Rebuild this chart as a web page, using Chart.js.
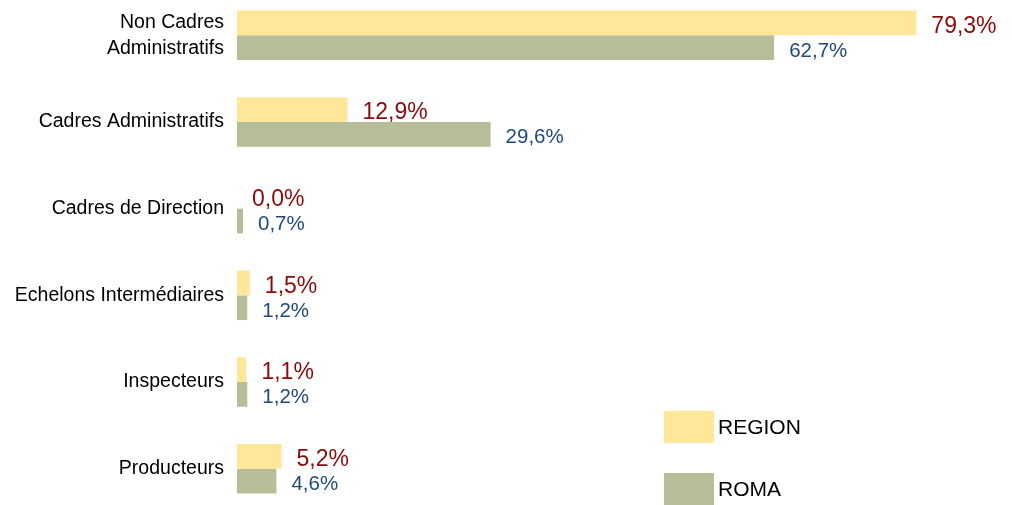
<!DOCTYPE html>
<html>
<head>
<meta charset="utf-8">
<script src="https://cdn.jsdelivr.net/npm/chart.js@4/dist/chart.umd.min.js"></script>
<style>
  html, body { margin: 0; padding: 0; background: #fff; overflow: hidden; width: 1012px; height: 505px; }
  #c { position: absolute; left: 0; top: -8px; }
  .lg { position: absolute; left: 664px; width: 50px; height: 32px; }
  .lt { position: absolute; left: 718px; font-family: "Liberation Sans", Arial, sans-serif; font-size: 21px; color: #000; line-height: 32px; }
</style>
</head>
<body>
<canvas id="c" width="1012" height="520"></canvas>
<div class="lg" id="lg0" style="top:411px;"></div>
<div class="lt" id="lt0" style="top:411px;"></div>
<div class="lg" id="lg1" style="top:473px;"></div>
<div class="lt" id="lt1" style="top:473px;"></div>
<script>
const categories = [
  ["Non Cadres", "Administratifs"],
  "Cadres Administratifs",
  "Cadres de Direction",
  "Echelons Intermédiaires",
  "Inspecteurs",
  "Producteurs"
];
const seriesNames = ["REGION", "ROMA"];
const regionValues = [79.3, 12.9, 0.0, 1.5, 1.1, 5.2];
const romaValues = [62.7, 29.6, 0.7, 1.2, 1.2, 4.6];
const barColors = ["#FFE699", "#B7BD99"];
const labelColors = ["#8B0A0A", "#1F4A7A"];
const labelSizes = [23, 20.5];

const FONT = '"Liberation Sans", Arial, sans-serif';

const valueLabels = {
  id: 'valueLabels',
  afterDatasetsDraw(chart) {
    const ctx = chart.ctx;
    ctx.save();
    chart.data.datasets.forEach((ds, di) => {
      const meta = chart.getDatasetMeta(di);
      ctx.font = labelSizes[di] + 'px ' + FONT;
      ctx.fillStyle = labelColors[di];
      ctx.textAlign = 'left';
      ctx.textBaseline = 'alphabetic';
      meta.data.forEach((el, i) => {
        const v = ds.data[i];
        const txt = v.toFixed(1).replace('.', ',') + '%';
        const capCenter = el.y + 1.5;
        ctx.fillText(txt, el.x + 15, capCenter + 0.358 * labelSizes[di]);
      });
    });
    ctx.restore();
  }
};

new Chart(document.getElementById('c'), {
  type: 'bar',
  data: {
    labels: categories,
    datasets: [
      { label: seriesNames[0], data: regionValues, backgroundColor: barColors[0], borderWidth: 0, categoryPercentage: 0.571, barPercentage: 1 },
      { label: seriesNames[1], data: romaValues, backgroundColor: barColors[1], borderWidth: 0, categoryPercentage: 0.571, barPercentage: 1 }
    ]
  },
  options: {
    indexAxis: 'y',
    responsive: false,
    animation: false,
    devicePixelRatio: 1,
    layout: { padding: { left: 0, right: 4, top: 0, bottom: 0 } },
    plugins: { legend: { display: false }, tooltip: { enabled: false } },
    scales: {
      x: { min: 0, max: 90, display: false },
      y: {
        grid: { display: false, drawTicks: false },
        border: { display: false },
        ticks: {
          padding: 13,
          color: '#000',
          font: { family: FONT, size: 19.5, lineHeight: 1.33 }
        },
        afterFit(scale) {
          scale.width = 237;
          scale.paddingTop = 0;
          scale.paddingBottom = 0;
        }
      }
    }
  },
  plugins: [valueLabels]
});

[0, 1].forEach(i => {
  document.getElementById('lg' + i).style.background = barColors[i];
  document.getElementById('lt' + i).textContent = seriesNames[i];
});
</script>
</body>
</html>
